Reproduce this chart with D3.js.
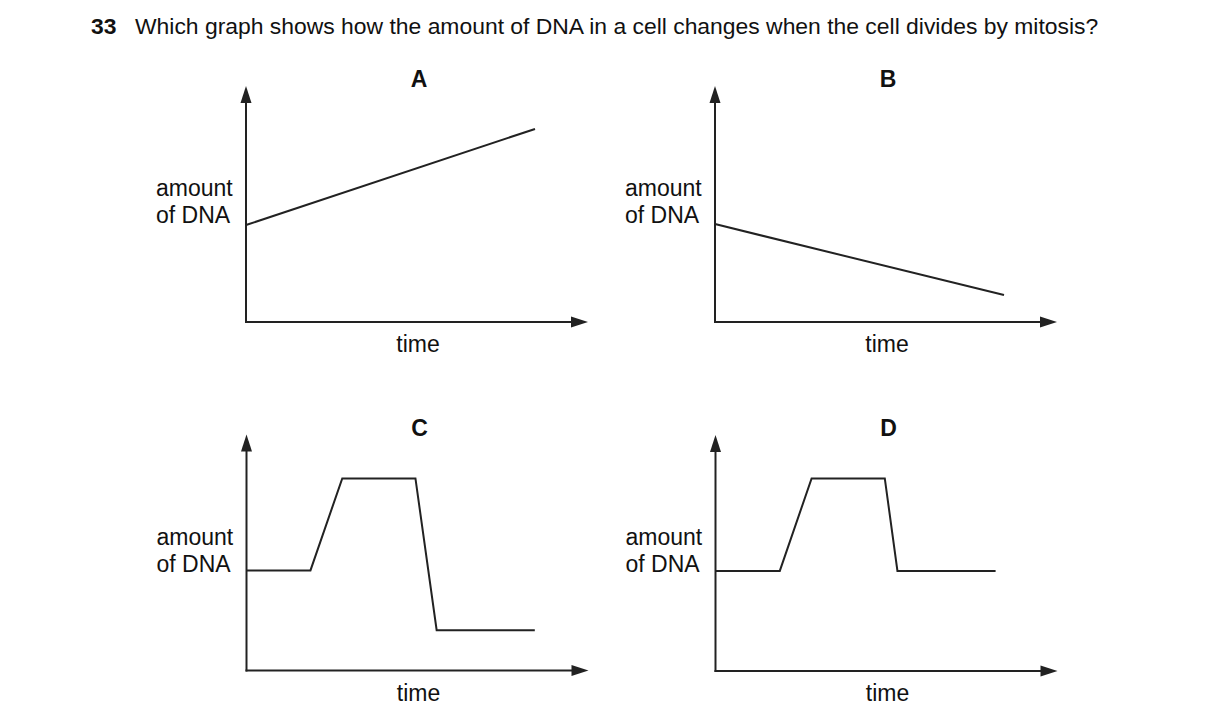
<!DOCTYPE html>
<html>
<head>
<meta charset="utf-8">
<script src="https://cdn.jsdelivr.net/npm/d3@7/dist/d3.min.js"></script>
<style>
  html, body { margin: 0; padding: 0; background: #fff; }
  svg { display: block; }
  text { font-family: "Liberation Sans", Arial, sans-serif; fill: #111; }
</style>
</head>
<body>
<svg id="chart" width="1216" height="726"></svg>
<script>
// ---- data ----
const questionNumber = "33";
const questionText = "Which graph shows how the amount of DNA in a cell changes when the cell divides by mitosis?";
const panelLetters = ["A", "B", "C", "D"];
const yLabelLines = ["amount", "of DNA"];
const xLabel = "time";
// time (0-100 along axis) and amount of DNA (0-100 along axis) for each graph
const timeA = [0, 84.5];
const dnaA  = [41.1, 81.8];
const timeB = [0, 84.5];
const dnaB  = [41.5, 11.4];
const timeC = [0, 18.7, 28.0, 49.4, 55.6, 84.3];
const dnaC  = [42.4, 42.4, 81.4, 81.4, 17.1, 17.1];
const timeD = [0, 18.8, 28.1, 49.5, 53.2, 81.9];
const dnaD  = [42.4, 42.4, 81.6, 81.6, 42.4, 42.4];

const seriesTime = [timeA, timeB, timeC, timeD];
const seriesDna = [dnaA, dnaB, dnaC, dnaD];

// ---- layout ----
const origins = [[246, 322], [715, 322], [246.5, 670.5], [715.5, 671]];
const axisW = 342, axisH = 236;
const ink = "#222";
const fs = "23px";

const svg = d3.select("#chart");

// title
const title = svg.append("text").attr("y", 34).style("font-size", "22.9px");
title.append("tspan").attr("x", 91).style("font-weight", "bold").text(questionNumber);
title.append("tspan").attr("x", 135).text(questionText);

const x = d3.scaleLinear().domain([0, 100]).range([0, axisW]);
const y = d3.scaleLinear().domain([0, 100]).range([0, -axisH]);

const line = d3.line().x(d => x(d[0])).y(d => y(d[1]));

panelLetters.forEach((letter, i) => {
  const [ox, oy] = origins[i];
  const g = svg.append("g").attr("transform", `translate(${ox},${oy})`);

  // axes
  const arrowL = 17, arrowHW = 5.5;
  g.append("line").attr("x1", 0).attr("y1", 1).attr("x2", 0).attr("y2", y(100) + arrowL - 1)
    .attr("stroke", ink).attr("stroke-width", 2);
  g.append("line").attr("x1", -1).attr("y1", 0).attr("x2", x(100) - arrowL + 1).attr("y2", 0)
    .attr("stroke", ink).attr("stroke-width", 2);
  g.append("path")
    .attr("d", `M0,${y(100)} L${arrowHW},${y(100) + arrowL} L${-arrowHW},${y(100) + arrowL} Z`)
    .attr("fill", ink);
  g.append("path")
    .attr("d", `M${x(100)},0 L${x(100) - arrowL},${-arrowHW} L${x(100) - arrowL},${arrowHW} Z`)
    .attr("fill", ink);

  // data line
  const pts = seriesTime[i].map((t, k) => [t, seriesDna[i][k]]);
  g.append("path").attr("d", line(pts))
    .attr("fill", "none").attr("stroke", ink).attr("stroke-width", 2)
    .attr("stroke-linejoin", "miter");

  // panel letter
  g.append("text").attr("x", 173).attr("y", -235)
    .attr("text-anchor", "middle").style("font-size", fs).style("font-weight", "bold")
    .text(letter);

  // y label (left-aligned block)
  yLabelLines.forEach((s, k) => {
    g.append("text").attr("x", -90).attr("y", -126 + k * 27)
      .attr("text-anchor", "start").style("font-size", fs).text(s);
  });

  // x label
  g.append("text").attr("x", 172).attr("y", 30)
    .attr("text-anchor", "middle").style("font-size", fs).text(xLabel);
});
</script>
</body>
</html>
